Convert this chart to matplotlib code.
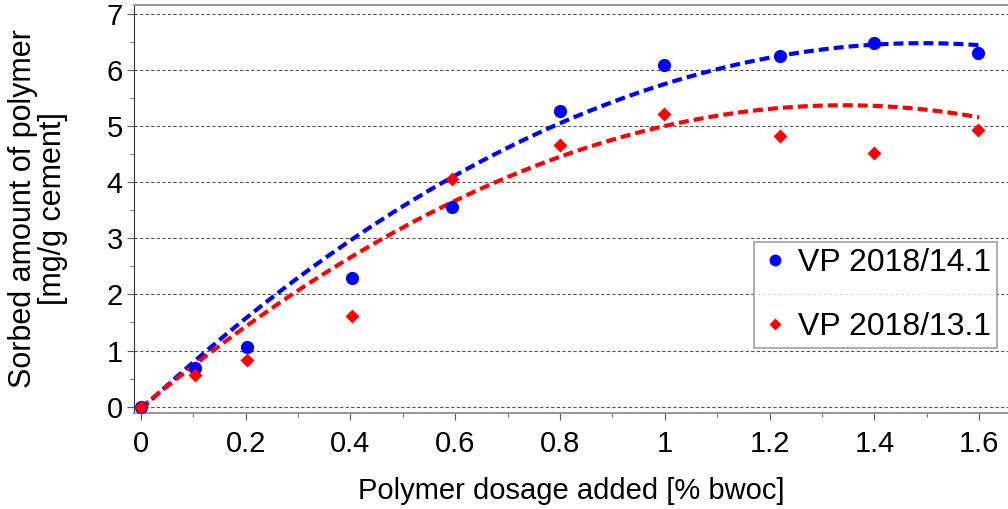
import numpy as np
import matplotlib
matplotlib.use("Agg")
import matplotlib.pyplot as plt
from matplotlib.ticker import MultipleLocator

plt.rcParams['font.family'] = ['Liberation Sans', 'DejaVu Sans']

# measured data
dosage = [0.0, 0.104, 0.203, 0.404, 0.593, 0.80, 0.999, 1.22, 1.40, 1.598]
sorbed_blue = [0.0, 0.69, 1.07, 2.30, 3.56, 5.27, 6.09, 6.24, 6.48, 6.30]
sorbed_red = [0.0, 0.56, 0.83, 1.62, 4.05, 4.67, 5.22, 4.83, 4.52, 4.93]
label_blue = "VP 2018/14.1"
label_red = "VP 2018/13.1"

# trend lines
trend_x = [0.0, 0.2, 0.4, 0.6, 0.8, 1.0, 1.2, 1.4, 1.5, 1.6]
trend_blue = [-0.05, 1.56, 2.98, 4.10, 5.06, 5.76, 6.19, 6.46, 6.49, 6.43]
trend_red = [-0.02, 1.41, 2.69, 3.64, 4.46, 5.00, 5.31, 5.36, 5.28, 5.16]

fig = plt.figure(figsize=(10.08, 5.09), dpi=100)
ax = fig.add_axes([0.133, 0.1886, 0.867, 0.802])

xs = np.linspace(trend_x[0], trend_x[-1], 200)
cb = np.polyfit(trend_x, trend_blue, 4)
cr = np.polyfit(trend_x, trend_red, 4)
ax.plot(xs, np.polyval(cb, xs), color='#0000ff', lw=3, ls=(0, (2.4, 1.2)), zorder=3)
ax.plot(xs, np.polyval(cr, xs), color='#ff0000', lw=3, ls=(0, (2.4, 1.2)), zorder=3)

ax.plot(dosage, sorbed_blue, 'o', color='#0000ff', ms=9.5, label=label_blue, zorder=4, mec='none')
ax.plot(dosage, sorbed_red, 'D', color='#ff0000', ms=7.2, label=label_red, zorder=4, mec='none')

ax.set_xlim(-0.0128, 1.655)
ax.set_ylim(-0.113, 7.16)
ax.set_xticks([0, 0.2, 0.4, 0.6, 0.8, 1.0, 1.2, 1.4, 1.6])
ax.set_xticklabels(['0', '0.2', '0.4', '0.6', '0.8', '1', '1.2', '1.4', '1.6'])
ax.xaxis.set_minor_locator(MultipleLocator(0.1))
ax.yaxis.set_major_locator(MultipleLocator(1))
ax.yaxis.set_minor_locator(MultipleLocator(0.5))
ax.grid(axis='y', which='major', color='#555555', ls=(0, (3, 2)), lw=0.8)
ax.tick_params(axis='both', which='major', direction='out', length=5, labelsize=21, color='#555555')
ax.tick_params(axis='both', which='minor', direction='out', length=3, color='#555555')
ax.tick_params(axis='x', pad=7)
ax.tick_params(axis='y', pad=3)
for s in ['top', 'bottom']:
    ax.spines[s].set_color('#999999')
    ax.spines[s].set_linewidth(1.5)
ax.spines['left'].set_color('#333333')
ax.spines['right'].set_visible(False)

ax.set_xlabel("Polymer dosage added [% bwoc]", fontsize=21, labelpad=14)
ax.set_ylabel("Sorbed amount of polymer\n[mg/g cement]", fontsize=22, labelpad=28, linespacing=1.0)

leg = ax.legend(loc='lower right', bbox_to_anchor=(0.987, 0.159), fontsize=23, frameon=True,
                fancybox=False, edgecolor='#888888', labelspacing=1.08, handletextpad=0.25,
                borderpad=0.18, handlelength=0.94, markerscale=0.9, borderaxespad=0)
leg.get_frame().set_linewidth(1.2)

fig.savefig("out.png", dpi=100)
